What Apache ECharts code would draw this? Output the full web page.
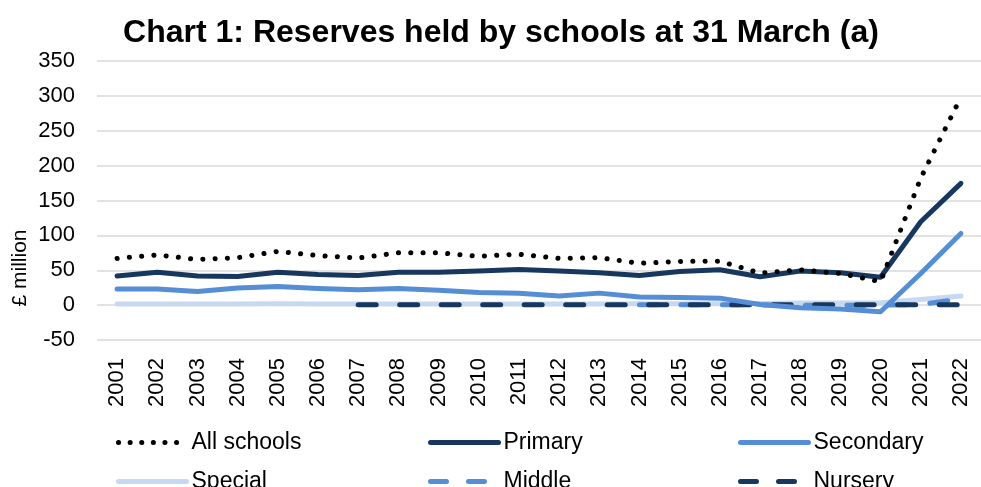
<!DOCTYPE html>
<html>
<head>
<meta charset="utf-8">
<script src="https://cdn.jsdelivr.net/npm/echarts@6/dist/echarts.min.js"></script>
<style>
  html, body { margin: 0; padding: 0; background: #fff; }
  #chart { width: 981px; height: 487px; }
</style>
</head>
<body>
<div id="chart"></div>
<script>
const years = ['2001', '2002', '2003', '2004', '2005', '2006', '2007', '2008', '2009', '2010', '2011',
  '2012', '2013', '2014', '2015', '2016', '2017', '2018', '2019', '2020', '2021', '2022']
const allSchools = [67, 72, 65.5, 68, 77, 71, 67.5, 75, 75, 70, 73, 67, 68, 60, 62.6, 63, 46, 50.7, 45.4, 33.5, 182, 298]
const primary = [41.6, 47, 41.6, 41, 47, 44, 42.5, 47, 47.3, 48.8, 51, 49, 46.4, 42.6, 48.3, 50.7, 40.6, 48.8, 46.4, 40, 119.6, 174.6]
const secondary = [23, 23, 19.6, 24.4, 26.8, 24, 22, 24, 21.5, 18, 17, 13, 17.2, 11.5, 11, 10, 1, -3.8, -5.7, -9.5, 45.4, 102.8]
const special = [1.5, 1.5, 1.5, 1.5, 2, 1.5, 1.5, 1.5, 1.5, 1.5, 1.5, 1.5, 1.5, 2, 2, 2, 2.5, 3, 3, 3.5, 8, 13]
const middle = [null, null, null, null, null, null, null, null, null, null, null, null, null,
  0.5, 0.5, 0.5, 0.3, 0, 0, 0, 1, 9]
const nursery = [null, null, null, null, null, null, 0.5, 0.5, 0.5, 0.5, 0.5, 0.5, 0.5, 0.5, 0.5,
  0.5, 0.5, 0.5, 0.5, 0.5, 0.5, 0.5]
const yTicks = { min: -50, max: 350, interval: 50 }

const font = 'Liberation Sans, Arial, sans-serif'
const dotted = [0.1, 12.2]
const dashed = [18, 23.5]
const chart = echarts.init(document.getElementById('chart'))

function line(name, data, color, type, z) {
  return {
    name: name,
    type: 'line',
    data: data,
    symbol: 'none',
    z: z,
    lineStyle: { color: color, width: 5, type: type, cap: 'round', join: 'round' },
    itemStyle: { color: color }
  }
}

function legendAt(name, left, top, color, type) {
  return {
    data: [name],
    left: left,
    top: top,
    itemWidth: 68,
    itemHeight: 14,
    itemGap: 0,
    itemStyle: { opacity: 0 },
    lineStyle: { color: color, width: 5, type: type, cap: 'round' },
    textStyle: { fontFamily: font, fontSize: 23, color: '#000', padding: [0, 0, 0, 0] }
  }
}

const option = {
  animation: false,
  title: {
    text: 'Chart 1: Reserves held by schools at 31 March (a)',
    left: 496,
    textAlign: 'center',
    top: 12,
    textStyle: { fontFamily: font, fontSize: 32, fontWeight: 'bold', color: '#000' }
  },
  legend: [
    legendAt('All schools', 111, 426, '#000000', [0.1, 11.5]),
    legendAt('Primary', 423, 426, '#17375e', 'solid'),
    legendAt('Secondary', 733, 426, '#558ed5', 'solid'),
    legendAt('Special', 111, 465, '#c6d9f1', 'solid'),
    legendAt('Middle', 423, 465, '#558ed5', [16, 22]),
    legendAt('Nursery', 733, 465, '#17375e', [16, 22])
  ],
  graphic: [{
    type: 'text',
    x: 20,
    y: 268,
    rotation: Math.PI / 2,
    style: {
      text: '£ million',
      fontFamily: font,
      fontSize: 21,
      fill: '#000',
      textAlign: 'center',
      textVerticalAlign: 'middle'
    }
  }],
  grid: { left: 97, top: 61, width: 894, height: 279 },
  xAxis: {
    type: 'category',
    data: years,
    boundaryGap: true,
    axisLine: { show: false },
    axisTick: { show: false },
    axisLabel: { rotate: 90, margin: 18, fontFamily: font, fontSize: 22, color: '#000', interval: 0 }
  },
  yAxis: {
    type: 'value',
    min: yTicks.min,
    max: yTicks.max,
    interval: yTicks.interval,
    axisLine: { show: false },
    axisTick: { show: false },
    axisLabel: { margin: 22, fontFamily: font, fontSize: 22, color: '#000' },
    splitLine: { lineStyle: { color: '#d9d9d9', width: 1.5 } }
  },
  series: [
    line('All schools', allSchools, '#000000', dotted, 6),
    line('Primary', primary, '#17375e', 'solid', 5),
    line('Secondary', secondary, '#558ed5', 'solid', 4),
    line('Special', special, '#c6d9f1', 'solid', 1),
    line('Middle', middle, '#558ed5', dashed, 2),
    line('Nursery', nursery, '#17375e', dashed, 3)
  ]
}

chart.setOption(option)
</script>
</body>
</html>
